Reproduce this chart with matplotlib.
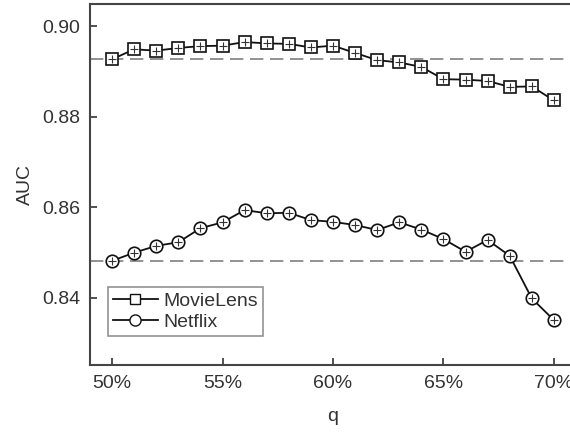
import matplotlib
matplotlib.use("Agg")
import matplotlib.pyplot as plt
from matplotlib.lines import Line2D

plt.rcParams['font.family'] = ['Liberation Sans', 'DejaVu Sans']

q = [50, 51, 52, 53, 54, 55, 56, 57, 58, 59, 60,
     61, 62, 63, 64, 65, 66, 67, 68, 69, 70]
movielens = [0.8927, 0.8949, 0.8946, 0.8952, 0.8956, 0.8957, 0.8965, 0.8962,
             0.8961, 0.8953, 0.8957, 0.8941, 0.8925, 0.8920, 0.8910, 0.8883,
             0.8882, 0.8879, 0.8866, 0.8867, 0.8836]
netflix = [0.8482, 0.8500, 0.8515, 0.8523, 0.8554, 0.8567, 0.8594, 0.8587,
           0.8588, 0.8572, 0.8568, 0.8561, 0.8550, 0.8567, 0.8551, 0.8530,
           0.8502, 0.8528, 0.8493, 0.8399, 0.8351]
baseline_movielens = movielens[0]
baseline_netflix = netflix[0]
x_ticks = [50, 55, 60, 65, 70]
x_ticklabels = ['50%', '55%', '60%', '65%', '70%']
y_ticks = [0.84, 0.86, 0.88, 0.90]

fig = plt.figure(figsize=(5.7, 4.32), dpi=100)
ax = fig.add_axes([90 / 570, 1 - 365 / 432, 486 / 570, 361 / 432])

dash_style = dict(color='#7f7f7f', lw=1.2, ls=(0, (8, 4)), zorder=1)
ax.axhline(baseline_movielens, **dash_style)
ax.axhline(baseline_netflix, **dash_style)

ax.plot(q, movielens, color='#111111', lw=1.3, marker='s', ms=8,
        mfc='white', mec='#111111', mew=1.2, zorder=3)
ax.plot(q, movielens, ls='none', marker='+', ms=6, mec='#333333', mew=0.8, zorder=4)
ax.plot(q, netflix, color='#111111', lw=1.3, marker='o', ms=9,
        mfc='white', mec='#111111', mew=1.2, zorder=3)
ax.plot(q, netflix, ls='none', marker='+', ms=6, mec='#333333', mew=0.8, zorder=4)

ax.set_xlim(49, 71)
ax.set_ylim(0.8252, 0.9049)
ax.set_xticks(x_ticks)
ax.set_xticklabels(x_ticklabels)
ax.set_yticks(y_ticks)
ax.set_yticklabels([f'{v:.2f}' for v in y_ticks])
ax.tick_params(direction='in', length=5, width=1.2, labelsize=14,
               colors='#333333', pad=7)
for s in ax.spines.values():
    s.set_linewidth(1.5)
    s.set_color('#444444')

ax.set_xlabel('q', fontsize=14, color='#333333', labelpad=12)
ax.set_ylabel('AUC', fontsize=14, color='#333333', labelpad=6)

handles = [
    Line2D([], [], color='#111111', lw=1.3, marker='s', ms=7, mfc='white', mec='#111111'),
    Line2D([], [], color='#111111', lw=1.3, marker='o', ms=8, mfc='white', mec='#111111'),
]
leg = ax.legend(handles, ['MovieLens', 'Netflix'], loc='lower left',
                bbox_to_anchor=(0.037, 0.08), fontsize=14, frameon=True,
                fancybox=False, edgecolor='#777777', handlelength=2.3,
                handletextpad=0.3, borderpad=0.25, labelspacing=0.2,
                borderaxespad=0)
leg.get_frame().set_linewidth(1.2)
for t in leg.get_texts():
    t.set_color('#333333')

fig.savefig('out.png', dpi=100)
